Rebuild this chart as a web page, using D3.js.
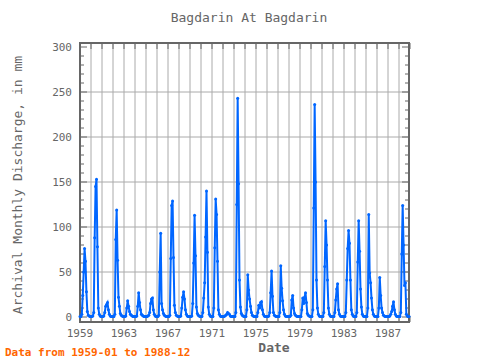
<!DOCTYPE html>
<html><head><meta charset="utf-8">
<script src="https://cdn.jsdelivr.net/npm/d3@7"></script>
<style>body{margin:0;background:#fff}svg{display:block}text{font-family:"DejaVu Sans Mono",monospace}</style>
</head><body><svg id="c" width="480" height="360"></svg>
<script>
const startYear = 1959;
const xTickLabels = [1959, 1963, 1967, 1971, 1975, 1979, 1983, 1987];
const yTickLabels = [0, 50, 100, 150, 200, 250, 300];
// monthly discharge (mm), Jan..Dec, one row per year 1959..1988
const discharge = [
 0.5,0.5,3,24,50,76,62,28,6,2,1,0.5,
 0.5,0.5,1,5,88,145,153,78,10,3,1,0.5,
 0.5,0.5,1,5,12,14,16,8,3,1,0.5,0.5,
 0.5,0.5,3,86,119,63,22,12,4,2,1,0.5,
 0.5,0.5,1,10,18,12,6,3,2,1,0.5,0.5,
 0.5,0.5,1,12,27,16,8,3,2,1,0.5,0.5,
 0.5,0.5,1,2,5,15,20,21,8,3,1,0.5,
 0.5,0.5,2,50,93,15,8,4,2,1,0.5,0.5,
 0.5,0.5,2,65,124,129,66,13,5,2,1,0.5,
 0.5,0.5,1,10,22,28,20,8,3,1,0.5,0.5,
 0.5,0.5,1,15,60,113,68,11,4,2,1,0.5,
 0.5,0.5,5,21,38,89,140,72,11,3,1,0.5,
 0.5,0.5,10,77,131,114,62,8,3,1,0.5,0.5,
 0.5,0.5,1,2,3,5,4,3,1,0.5,0.5,0.5,
 0.5,0.5,5,125,243,148,41,11,4,2,1,0.5,
 0.5,0.5,8,47,30,20,12,5,2,1,0.5,0.5,
 0.5,0.5,5,13,10,16,17,8,3,1,0.5,0.5,
 0.5,0.5,1,5,27,51,23,5,2,1,0.5,0.5,
 0.5,0.5,5,57,32,18,8,3,1,0.5,0.5,0.5,
 0.5,0.5,2,19,24,10,4,2,1,0.5,0.5,0.5,
 0.5,0.5,8,21,15,22,27,16,4,2,1,0.5,
 0.5,0.5,8,121,236,150,41,10,3,1,0.5,0.5,
 0.5,0.5,5,56,107,80,41,10,3,1,0.5,0.5,
 0.5,0.5,5,19,31,37,8,3,1,0.5,0.5,0.5,
 0.5,0.5,5,41,76,96,82,41,8,3,1,0.5,
 0.5,0.5,5,61,107,73,31,11,3,1,0.5,0.5,
 0.5,0.5,10,114,49,38,21,8,3,1,0.5,0.5,
 0.5,0.5,10,44,24,10,5,2,1,0.5,0.5,0.5,
 0.5,0.5,1,3,6,12,17,8,3,1,0.5,0.5,
 0.5,0.5,5,70,124,80,35,38,3,1,0.5,0.5
];

const svg = d3.select("#c");
const L = 80, R = 409, T = 43, B = 322;
const x = d3.scaleLinear().domain([1959, 1989]).range([80, 410]);
const y = d3.scaleLinear().domain([0, 300]).range([317, 47]);
const grey = "#666", grid = "#aaa";

const years = d3.range(1959, 1990);
// grid
svg.append("g").selectAll("line").data(years.slice(1, -1)).join("line")
  .attr("x1", d => x(d)).attr("x2", d => x(d)).attr("y1", T).attr("y2", B)
  .attr("stroke", grid).attr("stroke-width", 1);
svg.append("g").selectAll("line").data([50,100,150,200,250]).join("line")
  .attr("x1", L).attr("x2", R).attr("y1", d => y(d)).attr("y2", d => y(d))
  .attr("stroke", grid).attr("stroke-width", 1);

// ticks
const yMinor = d3.range(0, 301, 10);
const tk = svg.append("g").attr("stroke", grey).attr("stroke-width", 1);
yMinor.forEach(v => {
  const len = v % 50 === 0 ? 7 : 4;
  tk.append("line").attr("x1", L).attr("x2", L + len).attr("y1", y(v)).attr("y2", y(v));
  tk.append("line").attr("x1", R).attr("x2", R - len).attr("y1", y(v)).attr("y2", y(v));
});
years.forEach(yr => {
  tk.append("line").attr("x1", x(yr)).attr("x2", x(yr)).attr("y1", T).attr("y2", T + 6);
  tk.append("line").attr("x1", x(yr)).attr("x2", x(yr)).attr("y1", B).attr("y2", B - 6);
});

// frame
svg.append("rect").attr("x", L).attr("y", T).attr("width", R - L).attr("height", B - T)
  .attr("fill", "none").attr("stroke", grey).attr("stroke-width", 2);

// data
const pts = discharge.map((v, i) => ({t: startYear + i / 12, v}));
const line = d3.line().x(d => x(d.t)).y(d => y(d.v));
svg.append("path").datum(pts).attr("d", line).attr("fill", "none")
  .attr("stroke", "#0066ff").attr("stroke-width", 2);
svg.append("g").selectAll("circle").data(pts).join("circle")
  .attr("cx", d => x(d.t)).attr("cy", d => y(d.v)).attr("r", 1.5).attr("fill", "#0066ff");

// labels
svg.append("g").selectAll("text").data(yTickLabels).join("text")
  .attr("x", 72).attr("y", d => y(d) + 4).attr("text-anchor", "end")
  .attr("font-size", 11).attr("fill", grey).text(d => d);
svg.append("g").selectAll("text").data(xTickLabels).join("text")
  .attr("x", d => x(d)).attr("y", 337).attr("text-anchor", "middle")
  .attr("font-size", 11).attr("fill", grey).text(d => d);

svg.append("text").attr("x", 249).attr("y", 22).attr("text-anchor", "middle")
  .attr("font-size", 13).attr("fill", grey).text("Bagdarin At Bagdarin");
svg.append("text").attr("x", 274).attr("y", 352).attr("text-anchor", "middle")
  .attr("font-size", 13).attr("font-weight", "bold").attr("fill", grey).text("Date");
svg.append("text").attr("transform", "translate(22,185) rotate(-90)").attr("text-anchor", "middle")
  .attr("font-size", 13).attr("fill", grey).text("Archival Monthly Discharge, in mm");
svg.append("text").attr("x", 5).attr("y", 356)
  .attr("font-size", 11).attr("font-weight", "bold").attr("fill", "#ff6600").text("Data from 1959-01 to 1988-12");
</script></body></html>
